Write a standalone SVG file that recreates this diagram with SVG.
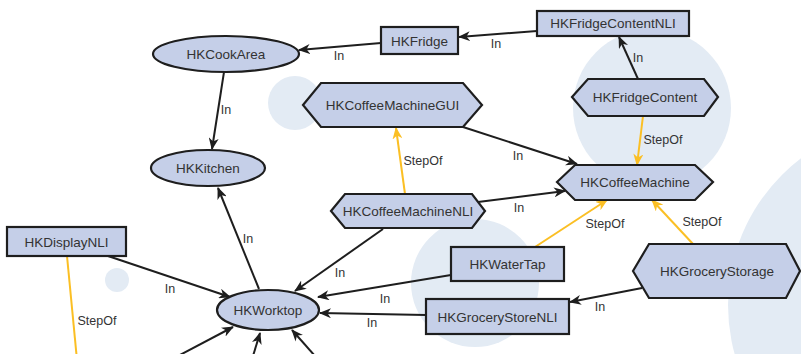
<svg xmlns="http://www.w3.org/2000/svg" width="801" height="354" viewBox="0 0 801 354">
<defs>
<style>
.bg{fill:#e3ebf4}
.n{fill:#c5cfe8;stroke:#1e1e1e;stroke-width:2.2}
.t{font-family:"Liberation Sans",Arial,sans-serif;font-size:13.5px;fill:#333;text-anchor:middle}
.l{font-family:"Liberation Sans",Arial,sans-serif;font-size:12.5px;fill:#333;text-anchor:middle}
.e{stroke:#1e1e1e;stroke-width:2;fill:none;marker-end:url(#ab)}
.s{stroke:#fbbf24;stroke-width:2;fill:none;marker-end:url(#ay)}
.s0{stroke:#fbbf24;stroke-width:2;fill:none}
</style>
<marker id="ab" viewBox="0 0 12 10" refX="11" refY="5" markerWidth="12" markerHeight="10" markerUnits="userSpaceOnUse" orient="auto">
<path d="M0,0 L12,5 L0,10 L3.5,5 z" fill="#1e1e1e"/>
</marker>
<marker id="ay" viewBox="0 0 12 10" refX="11" refY="5" markerWidth="12" markerHeight="10" markerUnits="userSpaceOnUse" orient="auto">
<path d="M0,0 L12,5 L0,10 L3.5,5 z" fill="#fbbf24"/>
</marker>
</defs>
<rect width="801" height="354" fill="#ffffff"/>
<g id="background">
<circle class="bg" cx="295" cy="103" r="27"/>
<circle class="bg" cx="652" cy="108" r="79"/>
<circle class="bg" cx="475" cy="283" r="64"/>
<circle class="bg" cx="912" cy="305" r="184"/>
<circle class="bg" cx="117" cy="280" r="12"/>
</g>
<g id="connectors">
<line class="e" x1="381" y1="43" x2="299" y2="50"/>
<text class="l" x="339" y="60">In</text>
<line class="e" x1="537" y1="31" x2="459" y2="37"/>
<text class="l" x="496" y="48">In</text>
<line class="e" x1="638" y1="79" x2="619" y2="37"/>
<text class="l" x="638" y="62">In</text>
<line class="s" x1="643" y1="116" x2="637" y2="165"/>
<text class="l" x="663" y="144">StepOf</text>
<line class="e" x1="224" y1="72" x2="212" y2="149"/>
<text class="l" x="226" y="114">In</text>
<line class="e" x1="463" y1="127" x2="577" y2="164"/>
<text class="l" x="518" y="160">In</text>
<line class="s" x1="405" y1="194" x2="396" y2="128"/>
<text class="l" x="423" y="165">StepOf</text>
<line class="e" x1="478" y1="202" x2="565" y2="191"/>
<text class="l" x="519" y="212">In</text>
<line class="s" x1="535" y1="247" x2="607" y2="200"/>
<text class="l" x="605" y="228">StepOf</text>
<line class="s" x1="693" y1="244" x2="652" y2="200"/>
<text class="l" x="702" y="226">StepOf</text>
<line class="e" x1="642" y1="288" x2="570" y2="302"/>
<text class="l" x="600" y="311">In</text>
<line class="e" x1="451" y1="275" x2="318" y2="297"/>
<text class="l" x="385" y="303">In</text>
<line class="e" x1="426" y1="315" x2="320" y2="313"/>
<text class="l" x="372" y="327">In</text>
<line class="e" x1="383" y1="229" x2="295" y2="291"/>
<text class="l" x="340" y="277">In</text>
<line class="e" x1="259" y1="289" x2="218" y2="188"/>
<text class="l" x="248" y="243">In</text>
<line class="e" x1="108" y1="256" x2="230" y2="297"/>
<text class="l" x="170" y="293">In</text>
<line class="s0" x1="67" y1="256" x2="77" y2="360"/>
<text class="l" x="97" y="325">StepOf</text>
<line class="e" x1="178" y1="356" x2="233" y2="327"/>
<line class="e" x1="253" y1="356" x2="260" y2="333"/>
<line class="e" x1="315" y1="356" x2="292" y2="330"/>
</g>
<g id="HKCookArea">
<ellipse class="n" cx="226" cy="54" rx="73" ry="18"/>
<text class="t" x="226" y="59">HKCookArea</text>
</g>
<g id="HKKitchen">
<ellipse class="n" cx="208" cy="168" rx="57" ry="18"/>
<text class="t" x="208" y="173">HKKitchen</text>
</g>
<g id="HKFridge">
<rect class="n" x="381" y="27" width="77" height="27"/>
<text class="t" x="419.5" y="45.5">HKFridge</text>
</g>
<g id="HKFridgeContentNLI">
<rect class="n" x="537" y="11" width="152" height="25"/>
<text class="t" x="613" y="28">HKFridgeContentNLI</text>
</g>
<g id="HKFridgeContent">
<polygon class="n" points="572,97 588,79 704,79 718,97 704,116 588,116"/>
<text class="t" x="645" y="102">HKFridgeContent</text>
</g>
<g id="HKCoffeeMachineGUI">
<polygon class="n" points="303,105 321,83 463,83 482,105 463,127 321,127"/>
<text class="t" x="392.5" y="110">HKCoffeeMachineGUI</text>
</g>
<g id="HKCoffeeMachineNLI">
<polygon class="n" points="331,211 345,194 472,194 485,211 472,228 345,228"/>
<text class="t" x="408" y="216">HKCoffeeMachineNLI</text>
</g>
<g id="HKCoffeeMachine">
<polygon class="n" points="557,182 575,165 695,165 713,182 695,200 575,200"/>
<text class="t" x="635" y="187">HKCoffeeMachine</text>
</g>
<g id="HKGroceryStorage">
<polygon class="n" points="633,271 649,244 786,244 800,271 786,298 649,298"/>
<text class="t" x="717" y="276">HKGroceryStorage</text>
</g>
<g id="HKWaterTap">
<rect class="n" x="451" y="247" width="113" height="34"/>
<text class="t" x="507.5" y="269">HKWaterTap</text>
</g>
<g id="HKGroceryStoreNLI">
<rect class="n" x="426" y="299" width="143" height="35"/>
<text class="t" x="497.5" y="321.5">HKGroceryStoreNLI</text>
</g>
<g id="HKDisplayNLI">
<rect class="n" x="7" y="227" width="119" height="29"/>
<text class="t" x="66.5" y="246.5">HKDisplayNLI</text>
</g>
<g id="HKWorktop">
<ellipse class="n" cx="268" cy="310" rx="51" ry="20"/>
<text class="t" x="268" y="315">HKWorktop</text>
</g>
</svg>
